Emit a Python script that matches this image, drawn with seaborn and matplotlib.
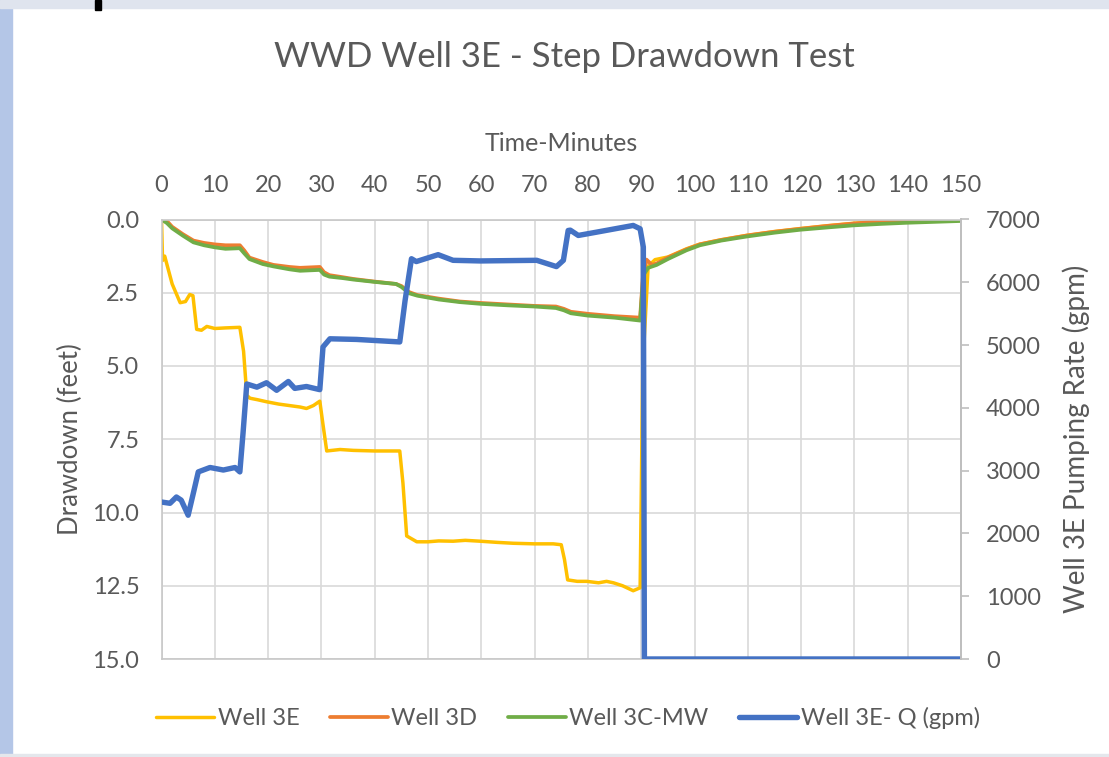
import numpy as np
import pandas as pd
import matplotlib
matplotlib.use("Agg")
import matplotlib.pyplot as plt
import seaborn as sns
from matplotlib.patches import Rectangle

# ---------------- data ----------------
t_3e = [0, 0.2, 0.6, 2.0, 3.5, 4.5, 5.3, 5.9, 6.6, 7.5, 8.5, 10, 12, 14.7, 15.4, 16.0, 16.6, 18, 19.7,
        22, 24, 26, 27.2, 28.5, 29.7, 30.3, 31.0, 33.5, 36, 40, 44.7, 45.3, 46.0, 47.9, 50, 52, 54.7,
        57, 59.8, 63, 66, 70, 73.5, 75.0, 75.6, 76.2, 78, 79.8, 82, 83.5, 84.8, 86.5, 88.5, 89.8,
        90.3, 91.3, 92.6, 95, 98.5, 101, 105, 109.8, 115, 119.8, 125, 129.8, 135, 140, 145, 150]
d_3e = [0, 1.4, 1.25, 2.2, 2.84, 2.8, 2.56, 2.6, 3.75, 3.78, 3.65, 3.72, 3.7, 3.68, 4.5, 6.0, 6.1, 6.15, 6.22,
        6.3, 6.35, 6.4, 6.45, 6.35, 6.2, 7.0, 7.9, 7.85, 7.88, 7.9, 7.9, 9.0, 10.8, 11.0, 11.0, 10.97, 10.98,
        10.95, 10.98, 11.02, 11.05, 11.07, 11.07, 11.1, 11.6, 12.3, 12.35, 12.35, 12.4, 12.35, 12.4, 12.5, 12.67, 12.57,
        5.0, 1.6, 1.37, 1.28, 1.0, 0.84, 0.69, 0.54, 0.41, 0.31, 0.21, 0.13, 0.06, 0.02, 0.0, 0.0]

t_3d = [0, 1, 2, 4, 6, 8, 10, 12, 14.7, 15.5, 16.5, 19, 21, 24, 26, 29.7, 30.5, 31.5, 34, 36, 40, 44,
        45, 46.5, 48, 52, 56, 60, 65, 70, 74, 75.5, 76.8, 80, 85, 89.8, 90.3, 91.0, 92.0, 92.9, 95, 98.5,
        101, 105, 109.8, 115, 119.8, 125, 129.8, 135, 140, 145, 150]
d_3d = [0, 0.05, 0.25, 0.5, 0.72, 0.8, 0.85, 0.88, 0.88, 1.05, 1.3, 1.45, 1.55, 1.62, 1.65, 1.62, 1.8, 1.9,
        1.97, 2.03, 2.12, 2.2, 2.27, 2.48, 2.58, 2.7, 2.8, 2.85, 2.9, 2.95, 2.97, 3.05, 3.15, 3.22, 3.3, 3.35,
        2.0, 1.37, 1.55, 1.5, 1.3, 1.02, 0.85, 0.7, 0.55, 0.42, 0.32, 0.22, 0.14, 0.07, 0.02, 0.0, 0.0]

t_3c = [0, 1, 2, 4, 6, 8, 10, 12, 14.7, 15.5, 16.5, 19, 21, 24, 26, 29.7, 30.5, 31.5, 34, 36, 40, 44,
        45, 46.5, 48, 52, 56, 60, 65, 70, 74, 75.5, 76.8, 80, 85, 89.8, 90.4, 91.3, 92.9, 95, 98.5,
        101, 105, 109.8, 115, 119.8, 125, 129.8, 135, 140, 145, 150]
d_3c = [0, 0.12, 0.3, 0.55, 0.78, 0.88, 0.95, 1.0, 0.98, 1.15, 1.35, 1.52, 1.6, 1.7, 1.75, 1.72, 1.88, 1.95,
        2.0, 2.05, 2.13, 2.2, 2.3, 2.52, 2.6, 2.73, 2.82, 2.88, 2.93, 2.97, 3.02, 3.1, 3.2, 3.28, 3.35, 3.45,
        1.9, 1.65, 1.55, 1.35, 1.05, 0.88, 0.72, 0.58, 0.45, 0.35, 0.27, 0.2, 0.15, 0.11, 0.08, 0.05]

t_q = [0, 1.6, 2.8, 3.7, 5.0, 6.0, 6.9, 9.1, 11.6, 13.8, 14.7, 15.3, 16.0, 17.9, 19.7, 21.6, 23.8, 25.0,
       27.2, 29.7, 30.3, 31.6, 36.6, 44.7, 45.7, 46.9, 47.8, 51.9, 54.7, 59.8, 70.4, 74.1, 75.4, 76.3,
       76.7, 78.2, 81.6, 88.5, 89.8, 90.4, 90.6, 150]
q_gpm = [2500, 2480, 2580, 2530, 2290, 2650, 2980, 3050, 3010, 3050, 2980, 3600, 4380, 4330, 4400, 4280,
         4420, 4310, 4340, 4290, 4970, 5100, 5090, 5050, 5710, 6375, 6330, 6440, 6350, 6340, 6350, 6250,
         6350, 6825, 6830, 6746, 6798, 6905, 6852, 6560, 0, 0]

series_names = ["Well 3E", "Well 3D", "Well 3C-MW", "Well 3E- Q (gpm)"]
x_ticks = list(range(0, 151, 10))
left_ticks = [0.0, 2.5, 5.0, 7.5, 10.0, 12.5, 15.0]
right_ticks = list(range(0, 7001, 1000))

# ---------------- styling ----------------
sns.set_theme(style="white")
plt.rcParams["font.family"] = ["Lato", "DejaVu Sans"]
TXT = "#595959"
GRID = "#d9d9d9"

W, H = 1109, 757
fig = plt.figure(figsize=(W / 100, H / 100), dpi=100)
fig.patch.set_facecolor("white")
# slide background strips
fig.patches.append(Rectangle((0, 0), 12 / W, 1, transform=fig.transFigure, color="#b4c6e7", zorder=0))
fig.patches.append(Rectangle((0, 1 - 8 / H), 1, 8 / H, transform=fig.transFigure, color="#dfe4ee", zorder=0))
fig.patches.append(Rectangle((0, 0), 1, 3 / H, transform=fig.transFigure, color="#e4e7ec", zorder=0))
fig.patches.append(Rectangle((95 / W, 1 - 10 / H), 6 / W, 10 / H, transform=fig.transFigure, color="black", zorder=1))

left, right, top, bottom = 161.5, 961, 219.5, 659
ax = fig.add_axes([left / W, 1 - bottom / H, (right - left) / W, (bottom - top) / H])
ax2 = ax.twinx()

sns.lineplot(x=t_3e, y=d_3e, ax=ax, color="#FFC000", lw=2.5, sort=False, estimator=None, legend=False)
sns.lineplot(x=t_3d, y=d_3d, ax=ax, color="#ED7D31", lw=2.7, sort=False, estimator=None, legend=False)
sns.lineplot(x=t_3c, y=d_3c, ax=ax, color="#70AD47", lw=2.7, sort=False, estimator=None, legend=False)
sns.lineplot(x=t_q, y=q_gpm, ax=ax2, color="#4472C4", lw=3.9, sort=False, estimator=None, legend=False)

ax.set_xlim(0, 150)
ax.set_ylim(15, 0)
ax2.set_ylim(0, 7000)

ax.xaxis.tick_top()
ax.xaxis.set_label_position("top")
ax.set_xticks(x_ticks)
ax.set_xticklabels([str(v) for v in x_ticks])
ax.set_yticks(left_ticks)
ax.set_yticklabels([f"{v:.1f}" for v in left_ticks])
ax2.set_yticks(right_ticks)
ax2.set_yticklabels([str(v) for v in right_ticks])

ax.grid(True, color=GRID, lw=1.2)
ax2.grid(False)
for s in ax.spines.values():
    s.set_color("#c8c8c8")
    s.set_linewidth(1.2)
for s in ax2.spines.values():
    s.set_visible(False)
ax2.spines["right"].set_visible(True)
ax2.spines["right"].set_color("#bfbfbf")
ax2.spines["right"].set_linewidth(1.4)

ax.tick_params(axis="x", length=0, pad=17, labelsize=17, colors=TXT)
ax.tick_params(axis="y", length=0, pad=16, labelsize=17, colors=TXT)
ax2.tick_params(axis="y", length=6, width=1.2, color="#bfbfbf", pad=12, labelsize=17, labelcolor=TXT)

ax.set_xlabel("Time-Minutes", fontsize=18, color=TXT, labelpad=17)
ax.set_ylabel("Drawdown (feet)", fontsize=18.5, color=TXT, labelpad=7)
ax2.set_ylabel("Well 3E Pumping Rate (gpm)", fontsize=20, color=TXT, labelpad=15)

fig.text(564 / W, 1 - 57 / H, "WWD Well 3E - Step Drawdown Test", ha="center", va="center",
         fontsize=25, color=TXT)

handles = list(ax.lines[:3]) + list(ax2.lines[:1])
fig.legend(handles, series_names, loc="center", bbox_to_anchor=(568 / W, 1 - 718 / H), ncol=4,
           frameon=False, fontsize=17, labelcolor=TXT, handlelength=2.45, handletextpad=0.15,
           columnspacing=1.3)

fig.savefig("out.png", dpi=100, facecolor=fig.get_facecolor())
